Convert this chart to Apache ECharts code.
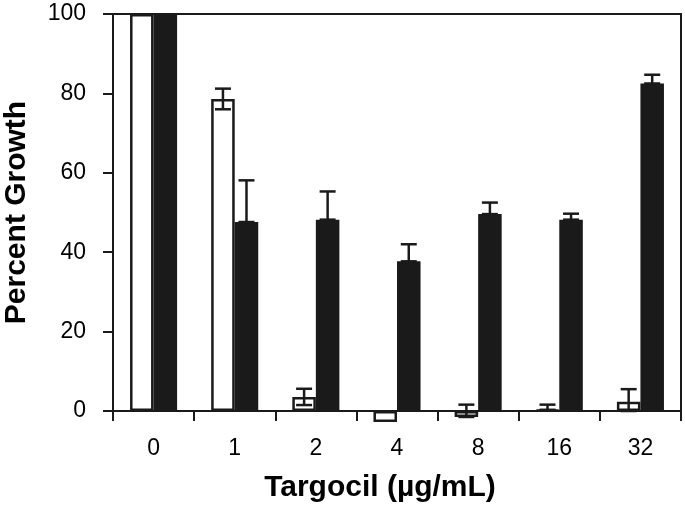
<!DOCTYPE html>
<html><head><meta charset="utf-8">
<script src="https://cdn.jsdelivr.net/npm/echarts@6/dist/echarts.min.js"></script>
<style>html,body{margin:0;padding:0;background:#fff}#c{width:685px;height:506px}</style>
</head><body><div id="c"></div>
<script>
const categories = ['0','1','2','4','8','16','32'];
const whiteVals = [100, 78.6, 3.5, -2.8, -1.5, 0.3, 2.3];
const whiteErrUp = [0, 2.6, 2.1, 0, 3.1, 1.3, 3.2];
const whiteErrDown = [0, 2.6, 2.0, 0, 0, 0, 2.3];
const blackVals = [100, 47.6, 48.2, 37.7, 49.6, 48.2, 82.5];
const blackErrUp = [0, 10.5, 7.1, 4.3, 2.9, 1.5, 2.2];
const yTicks = [0, 20, 40, 60, 80, 100];

const FONT = '"Liberation Sans", Arial, sans-serif';
const INK = '#1a1a1a';
const BW = 0.29;

function errSeries(vals, up, down, side) {
  return {
    type: 'custom', clip: false, z: 5,
    data: vals.map((v, i) => [i, v, v + up[i], v - down[i]]),
    renderItem: function (params, api) {
      const i = api.value(0);
      const band = api.size([1, 0])[0];
      const c = api.coord([i, api.value(1)]);
      const x = c[0] + side * band * BW / 2;
      const hi = api.coord([i, api.value(2)])[1];
      const lo = api.coord([i, api.value(3)])[1];
      if (Math.abs(hi - lo) < 0.5) return null;
      const cw = 8;
      const st = { stroke: INK, lineWidth: 2.5, fill: null };
      return { type: 'group', children: [
        { type: 'line', shape: { x1: x, y1: hi, x2: x, y2: lo }, style: st },
        { type: 'line', shape: { x1: x - cw, y1: hi, x2: x + cw, y2: hi }, style: st },
        { type: 'line', shape: { x1: x - cw, y1: lo, x2: x + cw, y2: lo }, style: st }
      ]};
    }
  };
}

const chart = echarts.init(document.getElementById('c'));
chart.setOption({
  animation: false,
  textStyle: { fontFamily: FONT },
  grid: { left: 113, right: 4, top: 14, bottom: 95, containLabel: false, outerBoundsMode: 'none',
    show: true, borderColor: INK, borderWidth: 2, backgroundColor: 'transparent' },
  xAxis: {
    type: 'category', data: categories,
    axisLine: { onZero: true, lineStyle: { color: INK, width: 2 } },
    axisTick: { show: true, length: 10, lineStyle: { color: INK, width: 2 } },
    axisLabel: { color: '#000', fontSize: 23, fontFamily: FONT, margin: 26 },
    name: 'Targocil (µg/mL)', nameLocation: 'middle', nameGap: 62,
    nameTextStyle: { color: '#000', fontSize: 30, fontWeight: 'bold', fontFamily: FONT, padding: [0, 34, 0, 0] }
  },
  yAxis: {
    type: 'value', min: 0, max: 100, interval: 20,
    splitLine: { show: false },
    axisLine: { show: true, lineStyle: { color: INK, width: 2 } },
    axisTick: { show: true, length: 10, lineStyle: { color: INK, width: 2 } },
    axisLabel: { color: '#000', fontSize: 23, fontFamily: FONT, margin: 27,
      formatter: v => yTicks.includes(v) ? String(v) : '' },
    name: 'Percent Growth', nameLocation: 'middle', nameGap: 81,
    nameTextStyle: { color: '#000', fontSize: 30, fontWeight: 'bold', fontFamily: FONT }
  },
  series: [
    { type: 'bar', data: whiteVals, barWidth: (BW * 100) + '%', barGap: '0%', clip: false,
      itemStyle: { color: '#fff', borderColor: INK, borderWidth: 2.5 } },
    { type: 'bar', data: blackVals, barWidth: (BW * 100) + '%', barGap: '0%', clip: false,
      itemStyle: { color: INK, borderColor: INK, borderWidth: 0 } },
    errSeries(whiteVals, whiteErrUp, whiteErrDown, -1),
    errSeries(blackVals, blackErrUp, blackErrUp.map(() => 0), 1)
  ]
});
</script></body></html>
